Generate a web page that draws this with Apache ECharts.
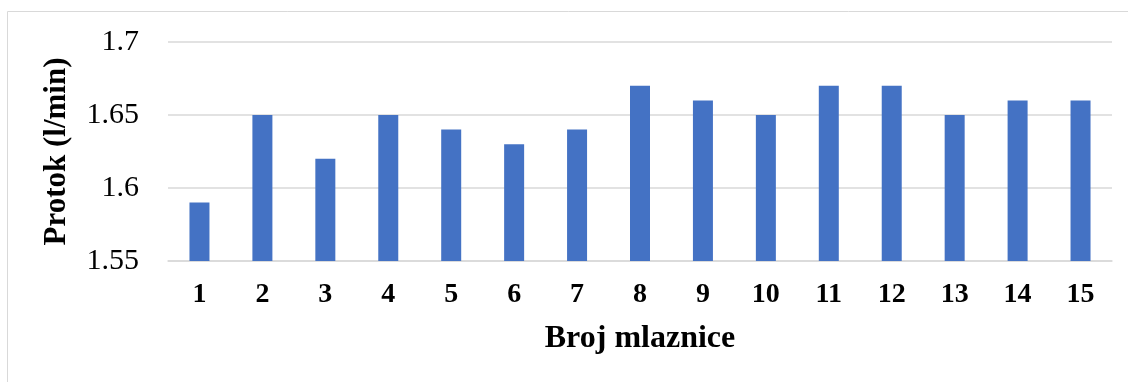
<!DOCTYPE html>
<html><head><meta charset="utf-8">
<script src="https://cdn.jsdelivr.net/npm/echarts@6/dist/echarts.min.js"></script>
<style>html,body{margin:0;padding:0;background:#fff}#c{width:1128px;height:382px}</style>
</head><body><div id="c"></div>
<script>
const categories = ['1','2','3','4','5','6','7','8','9','10','11','12','13','14','15'];
const flowValues = [1.59,1.65,1.62,1.65,1.64,1.63,1.64,1.67,1.66,1.65,1.67,1.67,1.65,1.66,1.66];
const yTicks = [1.55,1.6,1.65,1.7];
const chart = echarts.init(document.getElementById('c'));
const font = '"Liberation Serif","Times New Roman",serif';
chart.setOption({
  animation:false,
  graphic:[{type:'rect',shape:{x:7.5,y:11.5,width:1200,height:400},style:{fill:'none',stroke:'#d9d9d9',lineWidth:1}}],
  grid:{left:168,right:16,top:42,bottom:121},
  xAxis:{type:'category',data:categories,
    axisLine:{lineStyle:{color:'#d9d9d9',width:1.5}},axisTick:{show:false},
    axisLabel:{fontFamily:font,fontWeight:'bold',fontSize:28,color:'#000',margin:20},
    name:'Broj mlaznice',nameLocation:'middle',nameGap:62,
    nameTextStyle:{fontFamily:font,fontWeight:'bold',fontSize:32,color:'#000'}},
  yAxis:{type:'value',min:1.55,max:1.7,interval:0.05,
    axisLine:{show:false},axisTick:{show:false},
    splitLine:{lineStyle:{color:'#d9d9d9',width:1.5}},
    axisLabel:{fontFamily:font,fontSize:30,color:'#000',margin:29,
      formatter:v=>{const t=yTicks.find(x=>Math.abs(x-v)<1e-6);return t!==undefined?String(t):'';}},
    name:'Protok (l/min)',nameLocation:'middle',nameGap:96,
    nameTextStyle:{fontFamily:font,fontWeight:'bold',fontSize:31,color:'#000'}},
  series:[{type:'bar',data:flowValues,barWidth:20,itemStyle:{color:'#4472C4'}}]
});
</script></body></html>
